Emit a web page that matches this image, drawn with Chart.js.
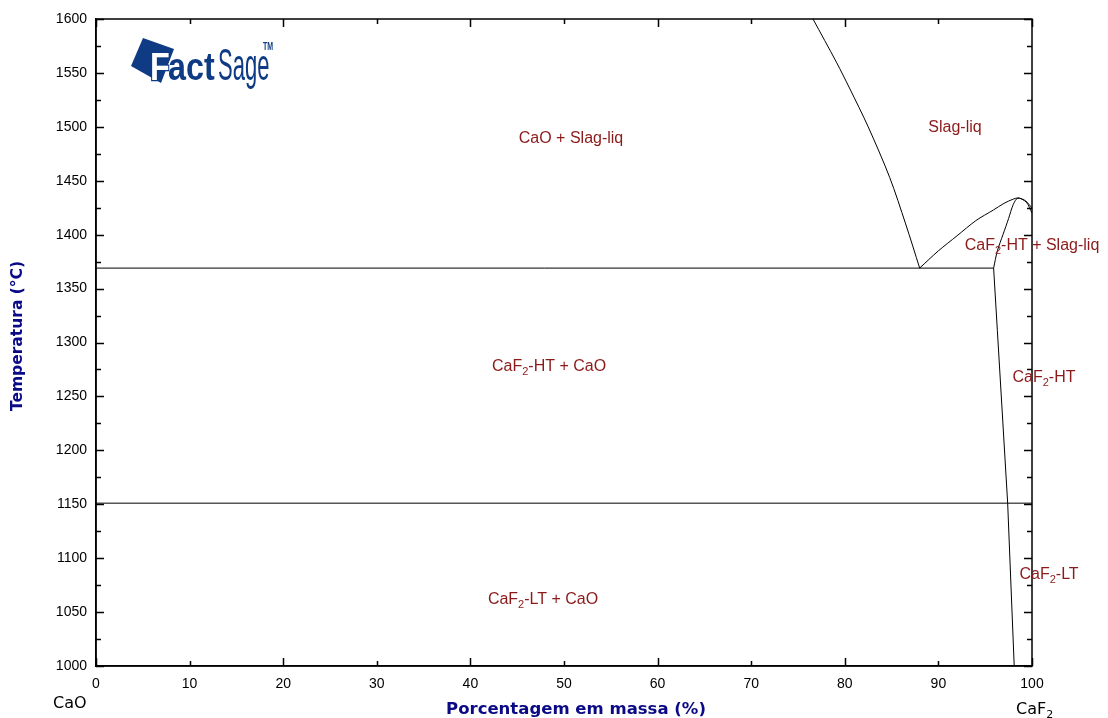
<!DOCTYPE html>
<html>
<head>
<meta charset="utf-8">
<script src="https://cdn.jsdelivr.net/npm/chart.js@4.4.1/dist/chart.umd.min.js"></script>
<style>
  html, body { margin: 0; padding: 0; background: #fff; }
  #wrap { width: 1108px; height: 718px; position: relative; }
</style>
</head>
<body>
<div id="wrap"><canvas id="c" width="1108" height="718"></canvas></div>
<script>
// ---- Data (x = mass % CaF2, y = temperature °C) ----
const xTickValues = [0, 10, 20, 30, 40, 50, 60, 70, 80, 90, 100];
const yTickValues = [1000, 1050, 1100, 1150, 1200, 1250, 1300, 1350, 1400, 1450, 1500, 1550, 1600];

const liquidusCaO_x = [76.6, 79.1, 80.5, 82.5, 84.8, 86.5, 88.0];
const liquidusCaO_T = [1600, 1560, 1536, 1500, 1453, 1410, 1369];

const eutectic_x = [0, 95.9];
const eutectic_T = [1369, 1369];

const liquidusCaF2_x = [88.0, 90.0, 92.0, 94.0, 95.9, 97.0, 98.0, 98.5, 99.2, 99.7, 100];
const liquidusCaF2_T = [1369, 1385, 1399, 1413, 1423, 1429, 1433, 1434, 1432, 1428, 1424];

const solidusCaF2_x = [95.9, 96.3, 96.9, 97.5, 98.0, 98.5, 99.4, 100];
const solidusCaF2_T = [1369, 1385, 1400, 1415, 1428, 1434, 1430, 1420];

const solvus_x = [95.9, 96.3, 97.4, 98.1];
const solvus_T = [1369, 1311, 1151, 1000];

const transition_x = [0, 100];
const transition_T = [1151, 1151];

const regionLabels = [
  { main: 'CaO + Slag-liq', x: 50.75, T: 1490.6 },
  { main: 'Slag-liq', x: 91.77, T: 1500.8 },
  { pre: 'CaF', sub: '2', post: '-HT + Slag-liq', x: 100.0, T: 1391.3 },
  { pre: 'CaF', sub: '2', post: '-HT + CaO', x: 48.4, T: 1279.1 },
  { pre: 'CaF', sub: '2', post: '-HT', x: 101.28, T: 1268.9 },
  { pre: 'CaF', sub: '2', post: '-LT', x: 101.82, T: 1086.2 },
  { pre: 'CaF', sub: '2', post: '-LT + CaO', x: 47.76, T: 1063.0 }
];

const xAxisTitle = 'Porcentagem em massa (%)';
const yAxisTitle = 'Temperatura (°C)';

function pts(xs, ys) { return xs.map((v, i) => ({ x: v, y: ys[i] })); }
function line(xs, ys, smooth) {
  return { data: pts(xs, ys), showLine: true, borderColor: '#000', borderWidth: 1,
           pointRadius: 0, fill: false, tension: smooth ? 0.3 : 0 };
}

const LABEL_COLOR = '#8b1a1a';
const TITLE_COLOR = '#0a0a86';
const LOGO_BLUE = '#0e3b84';
const LBL_FONT = '"Liberation Sans", Arial, sans-serif';

const framePlugin = {
  id: 'frame',
  afterDraw(chart) {
    const ctx = chart.ctx;
    const xs = chart.scales.x, ys = chart.scales.y;
    const a = chart.chartArea;
    ctx.save();
    ctx.strokeStyle = '#000';
    ctx.lineWidth = 1.5;
    ctx.strokeRect(a.left, a.top, a.right - a.left, a.bottom - a.top);
    ctx.beginPath();
    xTickValues.forEach((v, i) => {
      const px = Math.round(xs.getPixelForValue(v)) + 0.5;
      const len = (i % 2 === 0) ? 8 : 5;
      ctx.moveTo(px, a.bottom); ctx.lineTo(px, a.bottom - len);
      ctx.moveTo(px, a.top); ctx.lineTo(px, a.top + len);
    });
    for (let t = 1000; t <= 1600; t += 25) {
      const py = Math.round(ys.getPixelForValue(t)) + 0.5;
      const len = (t % 50 === 0) ? 8 : 5;
      ctx.moveTo(a.left, py); ctx.lineTo(a.left + len, py);
      ctx.moveTo(a.right, py); ctx.lineTo(a.right - len, py);
    }
    ctx.stroke();

    // region labels
    ctx.fillStyle = LABEL_COLOR;
    ctx.textBaseline = 'middle';
    const big = '16px ' + LBL_FONT, small = '11px ' + LBL_FONT;
    regionLabels.forEach(l => {
      const cx = xs.getPixelForValue(l.x), cy = ys.getPixelForValue(l.T) + 2;
      if (!l.sub) {
        ctx.font = big;
        ctx.textAlign = 'center';
        ctx.fillText(l.main, cx, cy);
      } else {
        ctx.font = big;
        const w1 = ctx.measureText(l.pre).width;
        const w3 = ctx.measureText(l.post).width;
        ctx.font = small;
        const w2 = ctx.measureText(l.sub).width;
        const x0 = cx - (w1 + w2 + w3) / 2;
        ctx.textAlign = 'left';
        ctx.font = big;
        ctx.fillText(l.pre, x0, cy);
        ctx.font = small;
        ctx.fillText(l.sub, x0 + w1, cy + 5);
        ctx.font = big;
        ctx.fillText(l.post, x0 + w1 + w2, cy);
      }
    });

    // axis titles
    ctx.fillStyle = TITLE_COLOR;
    ctx.textAlign = 'center';
    ctx.textBaseline = 'middle';
    ctx.font = 'bold 16.5px "DejaVu Sans", sans-serif';
    ctx.fillText(xAxisTitle, 576, 710);
    ctx.save();
    ctx.translate(18, 336);
    ctx.rotate(-Math.PI / 2);
    ctx.font = 'bold 15.5px "DejaVu Sans", sans-serif';
    ctx.fillText(yAxisTitle, 0, 0);
    ctx.restore();

    // component names under axis ends
    ctx.fillStyle = '#000';
    ctx.textAlign = 'left';
    ctx.textBaseline = 'alphabetic';
    ctx.font = '16px "DejaVu Sans", sans-serif';
    ctx.fillText('CaO', xs.getPixelForValue(0) - 43, 708);
    const cfx = xs.getPixelForValue(100) - 16;
    ctx.fillText('CaF', cfx, 714);
    const wcf = ctx.measureText('CaF').width;
    ctx.font = '11px "DejaVu Sans", sans-serif';
    ctx.fillText('2', cfx + wcf, 718);

    // FactSage logo
    ctx.fillStyle = LOGO_BLUE;
    ctx.beginPath();
    ctx.moveTo(143, 38);
    ctx.lineTo(174, 49);
    ctx.lineTo(161, 83);
    ctx.lineTo(131, 66);
    ctx.closePath();
    ctx.fill();

    ctx.save();
    ctx.translate(150, 80);
    ctx.scale(0.85, 1);
    ctx.font = 'bold 38px "Liberation Sans", Arial, sans-serif';
    ctx.lineWidth = 2.5;
    ctx.strokeStyle = LOGO_BLUE;
    ctx.fillStyle = '#fff';
    ctx.strokeText('F', 0, 0);
    ctx.fillText('F', 0, 0);
    const wF = ctx.measureText('F').width;
    ctx.fillStyle = LOGO_BLUE;
    ctx.fillText('act', wF - 2, 0);
    ctx.restore();

    ctx.save();
    ctx.translate(218, 80);
    ctx.scale(0.5, 1);
    ctx.fillStyle = LOGO_BLUE;
    ctx.font = '44px "Liberation Sans", Arial, sans-serif';
    ctx.fillText('Sage', 0, 0);
    ctx.restore();

    ctx.save();
    ctx.translate(263, 50);
    ctx.scale(0.7, 1);
    ctx.fillStyle = LOGO_BLUE;
    ctx.font = 'bold 10px "Liberation Sans", Arial, sans-serif';
    ctx.fillText('TM', 0, 0);
    ctx.restore();

    ctx.restore();
  }
};

new Chart(document.getElementById('c'), {
  type: 'scatter',
  data: {
    datasets: [
      line(liquidusCaO_x, liquidusCaO_T, true),
      line(eutectic_x, eutectic_T),
      line(liquidusCaF2_x, liquidusCaF2_T, true),
      line(solidusCaF2_x, solidusCaF2_T, true),
      line(solvus_x, solvus_T),
      line(transition_x, transition_T)
    ]
  },
  options: {
    responsive: false,
    animation: false,
    devicePixelRatio: 1,
    layout: { padding: { left: 0, right: 76, top: 19, bottom: 0 } },
    plugins: { legend: { display: false }, tooltip: { enabled: false } },
    scales: {
      x: {
        type: 'linear', min: 0, max: 100,
        afterBuildTicks(scale) { scale.ticks = xTickValues.map(v => ({ value: v })); },
        afterFit(scale) { scale.height = 52; },
        ticks: { color: '#000', font: { family: LBL_FONT, size: 14 }, padding: 10, maxRotation: 0,
                 callback: v => String(v) },
        grid: { drawOnChartArea: false, drawTicks: false },
        border: { display: true, color: '#000', width: 1.5 }
      },
      y: {
        type: 'linear', min: 1000, max: 1600,
        afterBuildTicks(scale) { scale.ticks = yTickValues.map(v => ({ value: v })); },
        afterFit(scale) { scale.width = 96; },
        ticks: { color: '#000', font: { family: LBL_FONT, size: 14 }, padding: 9,
                 callback: v => String(v) },
        grid: { drawOnChartArea: false, drawTicks: false },
        border: { display: true, color: '#000', width: 1.5 }
      }
    }
  },
  plugins: [framePlugin]
});
</script>
</body>
</html>
